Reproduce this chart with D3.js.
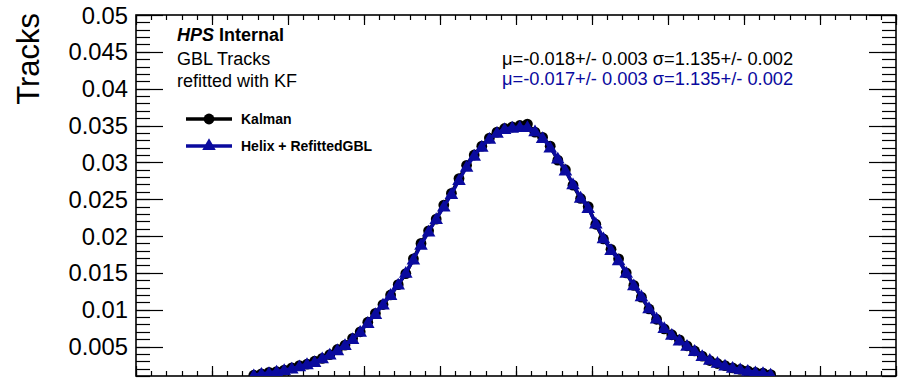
<!DOCTYPE html>
<html><head><meta charset="utf-8">
<script src="https://cdn.jsdelivr.net/npm/d3@7"></script>
<style>body{margin:0;background:#fff;} svg{display:block;font-family:"Liberation Sans",Arial,Helvetica,sans-serif;}</style>
</head><body><svg id="c" width="913" height="379"></svg>
<script>
const binCenters = [-3.45,-3.35,-3.25,-3.15,-3.05,-2.95,-2.85,-2.75,-2.65,-2.55,-2.45,-2.35,-2.25,-2.15,-2.05,-1.95,-1.85,-1.75,-1.65,-1.55,-1.45,-1.35,-1.25,-1.15,-1.05,-0.95,-0.85,-0.75,-0.65,-0.55,-0.45,-0.35,-0.25,-0.15,-0.05,0.05,0.15,0.25,0.35,0.45,0.55,0.65,0.75,0.85,0.95,1.05,1.15,1.25,1.35,1.45,1.55,1.65,1.75,1.85,1.95,2.05,2.15,2.25,2.35,2.45,2.55,2.65,2.75,2.85,2.95,3.05,3.15,3.25,3.35];
const kalman = [0.0011,0.0013,0.0015,0.0016,0.0018,0.0021,0.0024,0.0026,0.0030,0.0034,0.0039,0.0046,0.0052,0.0061,0.0070,0.0083,0.0095,0.0107,0.0120,0.0134,0.0149,0.0169,0.0190,0.0207,0.0223,0.0242,0.0258,0.0278,0.0296,0.0310,0.0322,0.0333,0.0341,0.0346,0.0348,0.0350,0.0352,0.0341,0.0334,0.0322,0.0303,0.0290,0.0269,0.0251,0.0240,0.0216,0.0196,0.0182,0.0169,0.0150,0.0133,0.0117,0.0101,0.0087,0.0074,0.0066,0.0059,0.0051,0.0044,0.0037,0.0031,0.0027,0.0024,0.0021,0.0019,0.0017,0.0015,0.0014,0.0012];
const helix = [0.0011,0.0013,0.0014,0.0016,0.0018,0.0020,0.0023,0.0026,0.0029,0.0034,0.0039,0.0045,0.0052,0.0060,0.0070,0.0082,0.0094,0.0107,0.0120,0.0134,0.0150,0.0168,0.0188,0.0206,0.0223,0.0240,0.0257,0.0276,0.0294,0.0309,0.0321,0.0332,0.0340,0.0345,0.0347,0.0348,0.0348,0.0342,0.0333,0.0320,0.0305,0.0289,0.0270,0.0252,0.0238,0.0217,0.0197,0.0181,0.0167,0.0150,0.0133,0.0118,0.0102,0.0088,0.0075,0.0066,0.0058,0.0051,0.0044,0.0037,0.0032,0.0028,0.0024,0.0021,0.0019,0.0017,0.0015,0.0014,0.0012];
const yTicks = [0.005,0.01,0.015,0.02,0.025,0.03,0.035,0.04,0.045,0.05];
const yTickLabels = ["0.005","0.01","0.015","0.02","0.025","0.03","0.035","0.04","0.045","0.05"];
const seriesNames = ["Kalman","Helix + RefittedGBL"];
const statsLines = ["\u03bc=-0.018+/- 0.003 \u03c3=1.135+/- 0.002","\u03bc=-0.017+/- 0.003 \u03c3=1.135+/- 0.002"];
const headerLines = ["GBL Tracks","refitted with KF"];

const BLUE = "#0a0a9e";
const svg = d3.select("#c");
const L=136,R=896,T=15,B=376;
const x = d3.scaleLinear().domain([-5,5]).range([L,R]);
const y = d3.scaleLinear().domain([0.001,0.05]).range([B,T]);

svg.append("defs").append("clipPath").attr("id","clip").append("rect").attr("x",L).attr("y",T).attr("width",R-L).attr("height",B-T);

const g = svg.append("g");
const xMajor = d3.range(-5,5.001,1), xMinor = d3.range(-5,5.001,0.2);
const yMinor = d3.range(0.001,0.0501,0.001);
function tl(x1,y1,x2,y2,w){g.append("line").attr("x1",x1).attr("y1",y1).attr("x2",x2).attr("y2",y2).attr("stroke","#000").attr("stroke-width",w||1.2);}
xMinor.forEach(v=>{const px=Math.round(x(v))+0.5; tl(px,B,px,B-5); tl(px,T,px,T+5);});
xMajor.forEach(v=>{const px=Math.round(x(v))+0.5; tl(px,B,px,B-10); tl(px,T,px,T+10);});
yMinor.forEach(v=>{const py=Math.round(y(v))+0.5; tl(L,py,L+14,py); tl(R,py,R-14,py);});
yTicks.forEach(v=>{const py=Math.round(y(v))+0.5; tl(L,py,L+27,py); tl(R,py,R-27,py);});
svg.append("rect").attr("x",L).attr("y",T).attr("width",R-L).attr("height",B-T).attr("fill","none").attr("stroke","#000").attr("stroke-width",1.6);

yTicks.forEach((v,i)=>{
  svg.append("text").attr("x",128).attr("y",y(v)).attr("dy","0.36em").attr("text-anchor","end").attr("font-size",23.8).text(yTickLabels[i]);
});
svg.append("text").attr("transform","translate(39,13) rotate(-90)").attr("text-anchor","end").attr("font-size",31).text("Tracks");

const plot = svg.append("g").attr("clip-path","url(#clip)");
const line = d3.line().x((d,i)=>x(binCenters[i])).y(d=>y(d));
plot.append("path").datum(kalman).attr("d",line).attr("fill","none").attr("stroke","#000").attr("stroke-width",3.5);
plot.selectAll("circle.k").data(kalman).join("circle").attr("cx",(d,i)=>x(binCenters[i])).attr("cy",d=>y(d)).attr("r",5.4).attr("fill","#000");
plot.append("path").datum(helix).attr("d",line).attr("fill","none").attr("stroke",BLUE).attr("stroke-width",3.5);
const tri = d3.symbol().type(d3.symbolTriangle).size(80);
plot.selectAll("path.h").data(helix).join("path").attr("transform",(d,i)=>`translate(${x(binCenters[i])},${y(d)+1})`).attr("d",tri).attr("fill",BLUE);

const h = svg.append("text").attr("x",177).attr("y",41).attr("font-size",18).attr("font-weight","bold");
h.append("tspan").attr("font-style","italic").text("HPS");
h.append("tspan").text(" Internal");
headerLines.forEach((t,i)=>svg.append("text").attr("x",177).attr("y",65+i*22).attr("font-size",18).text(t));

statsLines.forEach((t,i)=>svg.append("text").attr("x",502).attr("y",65+i*20).attr("font-size",18.3).attr("fill",i?BLUE:"#000").text(t));

const legY=[119,146];
const lg = svg.append("g");
lg.append("line").attr("x1",186).attr("x2",232).attr("y1",legY[0]).attr("y2",legY[0]).attr("stroke","#000").attr("stroke-width",3.5);
lg.append("circle").attr("cx",209).attr("cy",legY[0]).attr("r",5.4).attr("fill","#000");
lg.append("line").attr("x1",186).attr("x2",232).attr("y1",legY[1]).attr("y2",legY[1]).attr("stroke",BLUE).attr("stroke-width",3.5);
lg.append("path").attr("transform",`translate(209,${legY[1]})`).attr("d",tri).attr("fill",BLUE);
seriesNames.forEach((t,i)=>lg.append("text").attr("x",241).attr("y",legY[i]+5).attr("font-size",14).attr("font-weight","bold").text(t));
</script></body></html>
